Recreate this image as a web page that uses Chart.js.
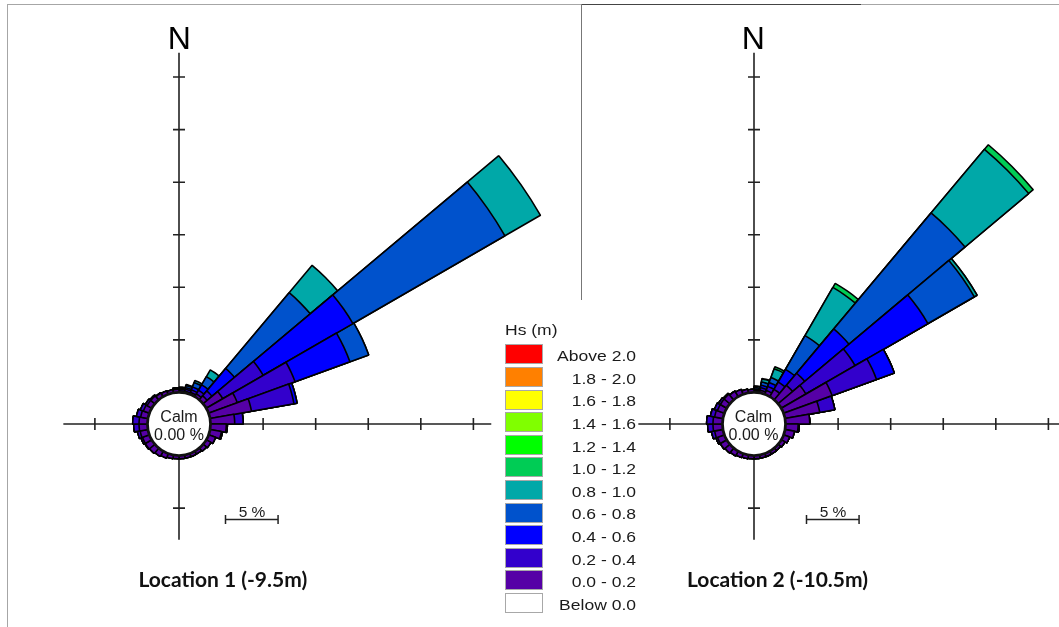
<!DOCTYPE html>
<html>
<head>
<meta charset="utf-8">
<script src="https://cdn.jsdelivr.net/npm/chart.js@4.4.0/dist/chart.umd.min.js"></script>
<style>
  html, body { margin: 0; padding: 0; background: #fff; }
  #page { position: relative; width: 1059px; height: 627px; overflow: hidden; background: #fff; }
  canvas.rose { position: absolute; z-index: 1; }
  .txt { position: absolute; white-space: nowrap; line-height: 1; color: #1a1a1a; z-index: 3; }
  .line { position: absolute; z-index: 2; }
  .swatch { position: absolute; width: 36px; height: 18px; border: 1px solid #a8a8a8; z-index: 3; }
</style>
</head>
<body>
<div id="page">
  <div class="line" style="left:7px;top:4px;width:1052px;height:1px;background:#a6a6a6"></div>
  <div class="line" style="left:581px;top:4px;width:280px;height:1px;background:#444"></div>
  <div class="line" style="left:7px;top:4px;width:1px;height:623px;background:#a6a6a6"></div>
  <div class="line" style="left:581px;top:4px;width:1px;height:296px;background:#777"></div>
  <canvas id="rose1" class="rose" width="900" height="900" style="left:-271px;top:-26px"></canvas>
  <canvas id="rose2" class="rose" width="900" height="900" style="left:304px;top:-26px"></canvas>
</div>
<script>
// 36 sectors of 10 degrees, the first one from 0 to 10 deg (clockwise from north)
const sectors = Array.from({ length: 36 }, (_, i) => (i * 10) + '-' + (i * 10 + 10));

// Hs bins, low to high
const hsBins = ['0.0 - 0.2', '0.2 - 0.4', '0.4 - 0.6', '0.6 - 0.8', '0.8 - 1.0', '1.0 - 1.2',
                '1.2 - 1.4', '1.4 - 1.6', '1.6 - 1.8', '1.8 - 2.0', 'Above 2.0'];
const hsColors = ['#5600a6', '#3300cc', '#0000ff', '#0052cc', '#00a8a8', '#00cc55',
                  '#00ff00', '#80ff00', '#ffff00', '#ff8000', '#ff0000'];

// Location 1 (-9.5m): % of occurrence per sector
const loc1Hs00 = [0.15, 0.15, 0.2, 0.3, 0.5, 1.8, 2.9, 4.0, 2.3, 1.5, 1.1, 0.7, 0.5, 0.4, 0.3, 0.3, 0.3, 0.3,
                  0.3, 0.35, 0.45, 0.55, 0.65, 0.7, 0.7, 0.75, 0.8, 0.8, 0.7, 0.6, 0.5, 0.5, 0.4, 0.35, 0.3, 0.3];
const loc1Hs02 = [0.15, 0.2, 0.25, 0.4, 0.6, 4.45, 5.85, 4.1, 0.8, 0.1, 0.1, 0, 0, 0, 0, 0, 0, 0,
                  0, 0, 0, 0, 0, 0.05, 0.15, 0.25, 0.5, 0.6, 0.4, 0.3, 0.2, 0.1, 0.05, 0, 0, 0.1];
const loc1Hs04 = [0.1, 0.15, 0.3, 0.6, 2.8, 9.85, 5.55, 0.3, 0, 0, 0, 0, 0, 0, 0, 0, 0, 0,
                  0, 0, 0, 0, 0, 0, 0, 0, 0, 0, 0, 0, 0, 0, 0, 0, 0, 0.05];
const loc1Hs06 = [0.1, 0.2, 0.45, 0.9, 9.4, 16.7, 1.9, 0, 0, 0, 0, 0, 0, 0, 0, 0, 0, 0,
                  0, 0, 0, 0, 0, 0, 0, 0, 0, 0, 0, 0, 0, 0, 0, 0, 0, 0];
const loc1Hs08 = [0, 0.1, 0.2, 0.75, 3.4, 3.9, 0, 0, 0, 0, 0, 0, 0, 0, 0, 0, 0, 0,
                  0, 0, 0, 0, 0, 0, 0, 0, 0, 0, 0, 0, 0, 0, 0, 0, 0, 0];

// Location 2 (-10.5m)
const loc2Hs00 = [0.1, 0.25, 0.4, 0.8, 1.8, 2.7, 4.9, 3.35, 2.3, 1.2, 0.9, 0.6, 0.4, 0.3, 0.3, 0.3, 0.3, 0.3,
                  0.3, 0.35, 0.4, 0.5, 0.6, 0.7, 0.7, 0.8, 0.9, 0.9, 0.8, 0.7, 0.7, 0.7, 0.6, 0.5, 0.35, 0.3];
const loc2Hs02 = [0.1, 0.25, 0.4, 0.8, 1.5, 5.4, 4.5, 1.45, 0, 0.1, 0, 0, 0, 0, 0, 0, 0, 0,
                  0, 0, 0, 0, 0, 0, 0.15, 0.3, 0.5, 0.6, 0.4, 0.3, 0.2, 0.1, 0, 0, 0, 0];
const loc2Hs04 = [0.1, 0.25, 0.4, 1.4, 5.5, 8.0, 1.8, 0, 0, 0, 0, 0, 0, 0, 0, 0, 0, 0,
                  0, 0, 0, 0, 0, 0, 0, 0, 0, 0, 0, 0, 0, 0, 0, 0, 0, 0];
const loc2Hs06 = [0.15, 0.3, 0.5, 3.7, 14.4, 5.1, 0, 0, 0, 0, 0, 0, 0, 0, 0, 0, 0, 0,
                  0, 0, 0, 0, 0, 0, 0, 0, 0, 0, 0, 0, 0, 0, 0, 0, 0, 0];
const loc2Hs08 = [0.15, 0.3, 0.9, 5.3, 7.9, 0.3, 0, 0, 0, 0, 0, 0, 0, 0, 0, 0, 0, 0,
                  0, 0, 0, 0, 0, 0, 0, 0, 0, 0, 0, 0, 0, 0, 0, 0, 0, 0];
const loc2Hs10 = [0, 0.05, 0.2, 0.45, 0.57, 0, 0, 0, 0, 0, 0, 0, 0, 0, 0, 0, 0, 0,
                  0, 0, 0, 0, 0, 0, 0, 0, 0, 0, 0, 0, 0, 0, 0, 0, 0, 0];

const page = document.getElementById('page');

// Stack the bins: each dataset holds the running total, smallest one drawn on top
function buildDatasets(bins) {
    const running = new Array(sectors.length).fill(0);
    return bins.map((vals, k) => {
        vals.forEach((v, i) => { running[i] += v; });
        return {
            label: hsBins[k],
            data: running.slice(),
            backgroundColor: hsColors[k],
            hoverBackgroundColor: hsColors[k],
            borderColor: '#000',
            borderWidth: 1.6
        };
    });
}

// Axes cross, ticks every 5 %, calm circle and scale bar
const roseFrame = {
    id: 'roseFrame',
    beforeDatasetsDraw(chart, args, opts) {
        const s = chart.scales.r;
        const cx = s.xCenter, cy = s.yCenter;
        const d = v => s.getDistanceFromCenterForValue(v);
        const ctx = chart.ctx;
        ctx.save();
        ctx.strokeStyle = '#222';
        ctx.lineWidth = 1.6;
        ctx.beginPath();
        ctx.moveTo(cx, cy - d(opts.north));
        ctx.lineTo(cx, cy + d(opts.south));
        ctx.moveTo(cx - d(opts.west), cy);
        ctx.lineTo(cx + d(opts.east), cy);
        for (let v = 5; v <= opts.north; v += 5) { ctx.moveTo(cx - 6, cy - d(v)); ctx.lineTo(cx + 6, cy - d(v)); }
        for (let v = 5; v <= opts.south; v += 5) { ctx.moveTo(cx - 6, cy + d(v)); ctx.lineTo(cx + 6, cy + d(v)); }
        for (let v = 5; v <= opts.east; v += 5) { ctx.moveTo(cx + d(v), cy - 6); ctx.lineTo(cx + d(v), cy + 6); }
        for (let v = 5; v <= opts.west; v += 5) { ctx.moveTo(cx - d(v), cy - 6); ctx.lineTo(cx - d(v), cy + 6); }
        ctx.stroke();
        ctx.restore();
    },
    afterDatasetsDraw(chart, args, opts) {
        const s = chart.scales.r;
        const cx = s.xCenter, cy = s.yCenter;
        const ctx = chart.ctx;
        ctx.save();
        // calm circle covers the sector roots
        ctx.beginPath();
        ctx.arc(cx, cy, s.getDistanceFromCenterForValue(0), 0, Math.PI * 2);
        ctx.fillStyle = '#fff';
        ctx.fill();
        ctx.lineWidth = 2.8;
        ctx.strokeStyle = '#111';
        ctx.stroke();
        // 5 % scale bar
        const len = s.getDistanceFromCenterForValue(5) - s.getDistanceFromCenterForValue(0);
        const x0 = cx + opts.barOffset, y = cy + 95.5;
        ctx.beginPath();
        ctx.lineWidth = 1.5;
        ctx.strokeStyle = '#222';
        ctx.moveTo(x0, y); ctx.lineTo(x0 + len, y);
        ctx.moveTo(x0, y - 4.5); ctx.lineTo(x0, y + 4.5);
        ctx.moveTo(x0 + len, y - 4.5); ctx.lineTo(x0 + len, y + 4.5);
        ctx.stroke();
        ctx.restore();
    }
};

function makeRose(id, bins, frame) {
    return new Chart(document.getElementById(id), {
        type: 'polarArea',
        data: { labels: sectors, datasets: buildDatasets(bins) },
        options: {
            responsive: false,
            animation: false,
            events: [],
            layout: { padding: 0 },
            scales: {
                r: {
                    min: -3,
                    max: 39.8,
                    startAngle: 0,
                    ticks: { display: false },
                    grid: { display: false },
                    angleLines: { display: false },
                    pointLabels: { display: false }
                }
            },
            plugins: {
                legend: { display: false },
                tooltip: { enabled: false },
                roseFrame: frame
            }
        },
        plugins: [roseFrame]
    });
}

makeRose('rose1', [loc1Hs00, loc1Hs02, loc1Hs04, loc1Hs06, loc1Hs08],
         { north: 32.3, east: 26.7, south: 8, west: 8, barOffset: 46.5 });
makeRose('rose2', [loc2Hs00, loc2Hs02, loc2Hs04, loc2Hs06, loc2Hs08, loc2Hs10],
         { north: 32.3, east: 31, south: 8, west: 8, barOffset: 52.5 });

// text, positioned by its baseline
function placeText(text, x, baseline, o) {
    const el = document.createElement('div');
    el.className = 'txt';
    el.textContent = text;
    el.style.font = (o.weight || 'normal') + ' ' + o.size + 'px ' + (o.family || '"Liberation Sans", Arial, sans-serif');
    el.style.left = x + 'px';
    el.style.top = (baseline - (o.asc || 0.8465) * o.size) + 'px';
    const shift = o.align === 'center' ? '-50%' : o.align === 'right' ? '-100%' : '0';
    el.style.transformOrigin = o.align === 'right' ? 'right' : o.align === 'center' ? 'center' : 'left';
    el.style.transform = 'translateX(' + shift + ')' + (o.stretch ? ' scaleX(' + o.stretch + ')' : '');
    if (o.color) el.style.color = o.color;
    page.appendChild(el);
}

placeText('N', 179.3, 47, { size: 32, align: 'center', color: '#000' });
placeText('N', 753.3, 47, { size: 32, align: 'center', color: '#000' });
placeText('Calm', 179, 421.5, { size: 16, align: 'center' });
placeText('0.00 %', 179, 439.5, { size: 16, align: 'center' });
placeText('Calm', 753.5, 421.5, { size: 16, align: 'center' });
placeText('0.00 %', 753.5, 439.5, { size: 16, align: 'center' });
placeText('5 %', 252, 516, { size: 15.5, align: 'center' });
placeText('5 %', 833, 516, { size: 15.5, align: 'center' });
placeText('Location 1 (-9.5m)', 222.8, 585, { size: 21, weight: 'bold', family: 'Lato, sans-serif', asc: 0.887, align: 'center', color: '#111' });
placeText('Location 2 (-10.5m)', 777.5, 585, { size: 21, weight: 'bold', family: 'Lato, sans-serif', asc: 0.887, align: 'center', color: '#111' });

// legend: highest bin at the top, then 'Below 0.0'
placeText('Hs (m)', 505, 334.5, { size: 15.5, stretch: 1.13 });
const legendRows = hsBins.map((label, k) => ({ label, color: hsColors[k] })).reverse();
legendRows.push({ label: 'Below 0.0', color: '#fff' });
legendRows.forEach((row, k) => {
    const top = 344.3 + k * 22.6;
    const sw = document.createElement('div');
    sw.className = 'swatch';
    sw.style.left = '505px';
    sw.style.top = top + 'px';
    sw.style.background = row.color;
    page.appendChild(sw);
    placeText(row.label, 636, top + 16, { size: 15.5, align: 'right', stretch: 1.13 });
});
</script>
</body>
</html>
